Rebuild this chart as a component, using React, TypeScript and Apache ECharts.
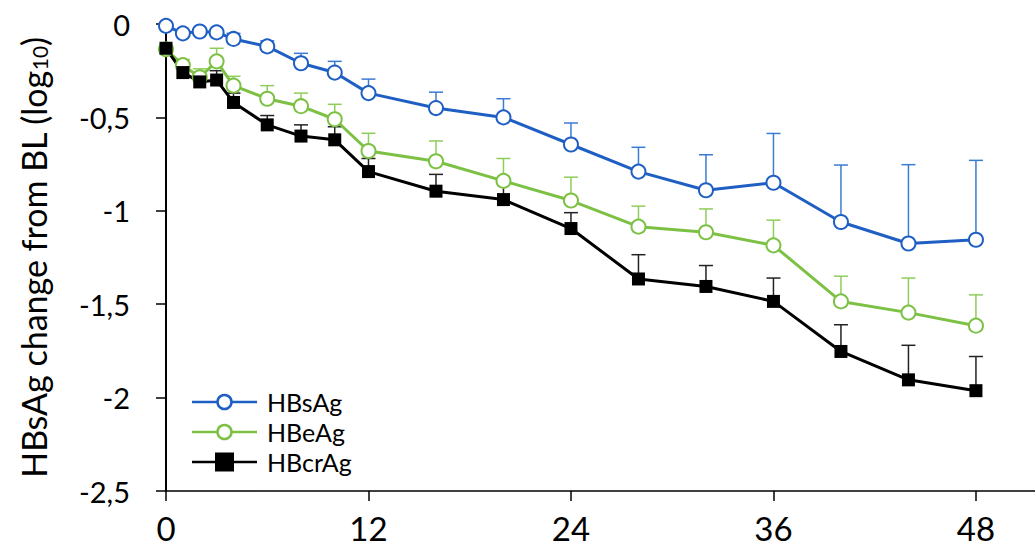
import React, { useEffect, useRef } from "react";
import * as echarts from "echarts";

const weeks = [0, 1, 2, 3, 4, 6, 8, 10, 12, 16, 20, 24, 28, 32, 36, 40, 44, 48];

const hbsMean = [-0.01, -0.05, -0.04, -0.045, -0.08, -0.12, -0.21, -0.26, -0.37, -0.45, -0.5, -0.645, -0.79, -0.89, -0.85, -1.06, -1.175, -1.155];
const hbsUpper = [null, -0.04, -0.03, -0.035, -0.05, -0.09, -0.157, -0.2, -0.295, -0.365, -0.4, -0.53, -0.66, -0.7, -0.586, -0.755, -0.753, -0.73];

const hbeMean = [-0.135, -0.22, -0.285, -0.2, -0.33, -0.4, -0.44, -0.51, -0.68, -0.735, -0.84, -0.945, -1.085, -1.115, -1.185, -1.485, -1.545, -1.615];
const hbeUpper = [null, -0.19, -0.24, -0.13, -0.28, -0.33, -0.37, -0.43, -0.585, -0.626, -0.72, -0.82, -0.975, -0.99, -1.05, -1.35, -1.36, -1.45];

const hbcrMean = [-0.13, -0.26, -0.31, -0.3, -0.42, -0.54, -0.6, -0.62, -0.79, -0.895, -0.94, -1.095, -1.365, -1.405, -1.485, -1.753, -1.905, -1.963];
const hbcrUpper = [null, -0.24, -0.28, -0.25, -0.37, -0.49, -0.54, -0.55, -0.72, -0.805, -0.83, -1.01, -1.235, -1.293, -1.36, -1.61, -1.72, -1.78];

const legendNames = ["HBsAg", "HBeAg", "HBcrAg"];

const FONT = "Lato";

function lineData(mean: number[]) {
  return weeks.map((w, i) => [w, mean[i]]);
}
function errData(mean: number[], upper: (number | null)[]) {
  return weeks
    .map((w, i) => (upper[i] == null ? null : [w, mean[i], upper[i]]))
    .filter((d) => d !== null);
}

function errSeries(name: string, mean: number[], upper: (number | null)[], color: string) {
  return {
    type: "custom",
    name: name + "_err",
    z: 1,
    silent: true,
    data: errData(mean, upper),
    renderItem: (params: any, api: any) => {
      const p0 = api.coord([api.value(0), api.value(1)]);
      const p1 = api.coord([api.value(0), api.value(2)]);
      const cap = 7;
      const style = { stroke: color, lineWidth: 1.5 };
      return {
        type: "group",
        children: [
          { type: "line", shape: { x1: p0[0], y1: p0[1], x2: p1[0], y2: p1[1] }, style },
          { type: "line", shape: { x1: p1[0] - cap, y1: p1[1], x2: p1[0] + cap, y2: p1[1] }, style },
        ],
      };
    },
  };
}

export default function App() {
  const ref = useRef<HTMLDivElement>(null);
  useEffect(() => {
    const chart = echarts.init(ref.current!, null, { renderer: "svg" });
    const blue = "#1f5fc4";
    const green = "#7cc143";
    const black = "#000000";
    const colors = [blue, green, black];
    const legendY = [402, 432, 462];
    const legendGraphics: any[] = [];
    legendNames.forEach((n, i) => {
      const y = legendY[i];
      const c = colors[i];
      legendGraphics.push({
        type: "line",
        shape: { x1: 192, y1: y, x2: 257, y2: y },
        style: { stroke: c, lineWidth: 2.5 },
        z: 10,
      });
      if (i < 2) {
        legendGraphics.push({
          type: "circle",
          shape: { cx: 224.5, cy: y, r: 7 },
          style: { fill: "#fff", stroke: c, lineWidth: 2.5 },
          z: 11,
        });
      } else {
        legendGraphics.push({
          type: "rect",
          shape: { x: 215, y: y - 9.5, width: 19, height: 19 },
          style: { fill: c },
          z: 11,
        });
      }
      legendGraphics.push({
        type: "text",
        x: 267,
        y: y,
        style: {
          text: n,
          fontFamily: FONT,
          fontSize: 25,
          fill: "#000",
          verticalAlign: "middle",
          align: "left",
        },
        z: 11,
      });
    });

    chart.setOption({
      animation: false,
      backgroundColor: "#ffffff",
      grid: { left: 166, top: 24, right: 0, bottom: 67, containLabel: false },
      graphic: legendGraphics,
      xAxis: {
        type: "value",
        min: 0,
        max: 51.5,
        interval: 12,
        axisLine: { show: true, onZero: false, lineStyle: { color: "#000", width: 1.5 } },
        axisTick: { show: true, length: 10, lineStyle: { color: "#000", width: 1.5 } },
        axisLabel: {
          fontFamily: FONT,
          fontSize: 33,
          color: "#000",
          margin: 20,
          showMaxLabel: false,
        },
        splitLine: { show: false },
      },
      yAxis: {
        type: "value",
        min: -2.5,
        max: 0,
        interval: 0.5,
        axisLine: { show: true, lineStyle: { color: "#000", width: 2 } },
        axisTick: { show: true, length: 10, lineStyle: { color: "#000", width: 1.5 } },
        axisLabel: {
          fontFamily: FONT,
          fontSize: 29,
          color: "#000",
          margin: 36,
          formatter: (v: number) => String(v).replace(".", ","),
        },
        splitLine: { show: false },
        name: "{a|HBsAg change from BL (log}{s|10}{a|)}",
        nameLocation: "middle",
        nameGap: 116,
        nameRotate: 90,
        nameTextStyle: {
          rich: {
            a: { fontFamily: FONT, fontSize: 34, color: "#000" },
            s: { fontFamily: FONT, fontSize: 21, color: "#000", padding: [12, 0, 0, 0] },
          },
        },
      },
      series: [
        errSeries("HBsAg", hbsMean, hbsUpper, "#3b7bd4"),
        errSeries("HBeAg", hbeMean, hbeUpper, "#8fcd5a"),
        errSeries("HBcrAg", hbcrMean, hbcrUpper, "#222222"),
        {
          type: "line",
          name: "HBsAg",
          z: 3,
          data: lineData(hbsMean),
          symbol: "emptyCircle",
          symbolSize: 14,
          lineStyle: { color: blue, width: 3 },
          itemStyle: { color: blue, borderColor: blue, borderWidth: 2 },
        },
        {
          type: "line",
          name: "HBeAg",
          z: 3,
          data: lineData(hbeMean),
          symbol: "emptyCircle",
          symbolSize: 14,
          lineStyle: { color: green, width: 3 },
          itemStyle: { color: green, borderColor: green, borderWidth: 2 },
        },
        {
          type: "line",
          name: "HBcrAg",
          z: 3,
          data: lineData(hbcrMean),
          symbol: "rect",
          symbolSize: 13,
          lineStyle: { color: black, width: 3 },
          itemStyle: { color: black },
        },
      ],
    });
    return () => chart.dispose();
  }, []);
  return <div ref={ref} style={{ width: 1035, height: 558, position: "absolute", left: 0, top: 0 }} />;
}
